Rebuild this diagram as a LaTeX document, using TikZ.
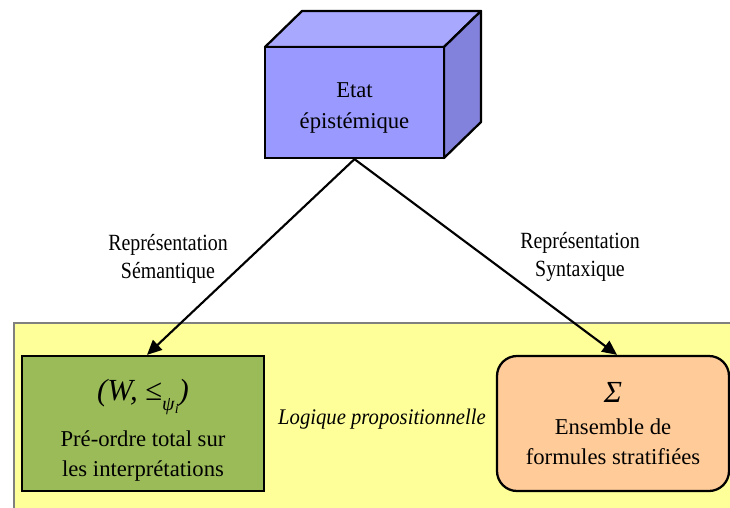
\documentclass[tikz,border=0pt]{standalone}
\usepackage{fontspec}
\usepackage{graphicx}
\setmainfont{Liberation Serif}
\usetikzlibrary{arrows.meta}
\definecolor{cubefront}{RGB}{153,153,255}
\definecolor{cubetop}{RGB}{168,168,255}
\definecolor{cubeside}{RGB}{130,130,220}
\definecolor{zone}{RGB}{255,255,153}
\definecolor{semfill}{RGB}{155,187,89}
\definecolor{synfill}{RGB}{255,204,153}
\newcommand\tallline[1]{\scalebox{1.03}[1.2]{#1}}
\tikzset{
  box/.style={draw=black, line width=1.7pt, inner sep=0pt, align=center,
    font=\fontsize{17}{22.5}\selectfont},
  conn/.style={line width=1.6pt, -{Triangle[length=11pt,width=10pt]}},
  lbl/.style={align=center, font=\fontsize{14.5}{20.5}\selectfont}
}
\begin{document}
\begin{tikzpicture}[x=0.75pt,y=-0.75pt]
\useasboundingbox (0,0) rectangle (730,507);
% zone
\fill[zone] (14,323) rectangle (735,512);
\draw[gray, line width=0.8pt] (735,323) -- (14,323) -- (14,512);
% cube
\draw[fill=cubetop, line width=1.7pt, line join=round] (265,47) -- (302,11) -- (481,11) -- (444,47) -- cycle;
\draw[fill=cubeside, line width=1.7pt, line join=round] (444,47) -- (481,11) -- (481,122) -- (444,158) -- cycle;
\node[box, fill=cubefront, minimum width=134.25pt, minimum height=83.25pt,
  font=\fontsize{17}{23.5}\selectfont] (etat) at (354.5,102.5) {\rule{0pt}{19pt}Etat\\épistémique};
% boxes
\node[box, fill=semfill, minimum width=181.5pt, minimum height=101.25pt] (sem) at (143,423.5)
  {\rule{0pt}{26pt}{\fontsize{23}{24}\selectfont\textit{(W,} ≤\raisebox{-7.5pt}{\fontsize{15}{15}\selectfont\textit{ψ}\raisebox{-2.5pt}{\fontsize{10.5}{10.5}\selectfont\textit{i}}}\textit{)}}\\[11pt]
   Pré-ordre total sur\\les interprétations};
\node[box, fill=synfill, rounded corners=15pt, minimum width=174pt, minimum height=101.25pt] (syn) at (613,423.5)
  {{\fontsize{23}{24}\selectfont\textit{Σ}}\\[2pt]Ensemble de\\formules stratifiées};
\node[font=\fontsize{15.5}{18}\selectfont\itshape] (zonelbl) at (382,419) {\scalebox{1}[1.08]{Logique propositionnelle}};
% connectors
\draw[conn] (etat.south) -- ([xshift=3pt]sem.north);
\draw[conn] (etat.south) -- ([xshift=3pt]syn.north);
\node[lbl] (l1) at (168,259) {\tallline{Représentation}\\\tallline{Sémantique}};
\node[lbl] (l2) at (580,257) {\tallline{Représentation}\\\tallline{Syntaxique}};
\end{tikzpicture}
\end{document}
